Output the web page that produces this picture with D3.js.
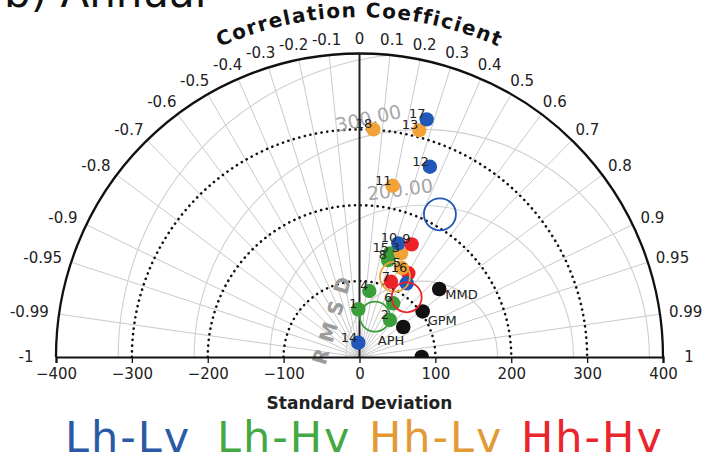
<!DOCTYPE html>
<html>
<head>
<meta charset="utf-8">
<script src="https://cdn.jsdelivr.net/npm/d3@7"></script>
<style>
  body { margin: 0; background: #fff; }
  svg { display: block; font-family: "DejaVu Sans", sans-serif; }
</style>
</head>
<body>
<svg id="chart" width="722" height="462"></svg>
<script>
// groups of experiments (legend order)
var groups = ['Lh-Lv', 'Lh-Hv', 'Hh-Lv', 'Hh-Hv'];

// numbered members: id, group, standard deviation, correlation
var modelIds    = [14, 1, 2, 4, 6, 8, 15, 7, 16, 3, 5, 10, 9, 11, 12, 18, 13, 17, 19];
var modelGroups = ['Lh-Lv', 'Lh-Hv', 'Lh-Hv', 'Lh-Hv', 'Lh-Hv', 'Lh-Hv', 'Lh-Hv', 'Hh-Hv', 'Hh-Hv',
                   'Hh-Lv', 'Hh-Lv', 'Lh-Lv', 'Hh-Hv', 'Hh-Lv', 'Lh-Lv', 'Hh-Lv', 'Hh-Lv', 'Lh-Lv', 'Lh-Lv'];
var modelStd    = [18.9, 62.9, 63.2, 87.9, 83.6, 133.2, 142.4, 107.5, 127.7, 147.2, 129.9, 158.3, 163.6, 229.9, 267.4, 300.5, 309.3, 325.4, 115.3];
var modelCorr   = [-0.084, -0.025, 0.636, 0.147, 0.532, 0.282, 0.282, 0.386, 0.504, 0.372, 0.431, 0.323, 0.420, 0.190, 0.347, 0.0605, 0.255, 0.272, 0.539];

// group means (open circles), same order as groups
var meanStd  = [215.9, 56.9, 115.7, 100.3];
var meanCorr = [0.491, 0.359, 0.404, 0.620];

// observation products
var obsNames = ['MMD', 'GPM', 'APH'];
var obsStd   = [138.1, 102.6, 69.9];
var obsCorr  = [0.761, 0.811, 0.825];
var refStd = 82;

var corrTicks = [-1, -0.99, -0.95, -0.9, -0.8, -0.7, -0.6, -0.5, -0.4, -0.3, -0.2, -0.1, 0,
                 0.1, 0.2, 0.3, 0.4, 0.5, 0.6, 0.7, 0.8, 0.9, 0.95, 0.99, 1];
var stdTicks = [-400, -300, -200, -100, 0, 100, 200, 300, 400];
var stdRings = [100, 200, 300];
var rmsRings = [100, 200, 300, 400];
var rmsLabels = [200, 300];

// styling
var colors = { 'Lh-Lv': '#2157b8', 'Lh-Hv': '#3b9e3b', 'Hh-Lv': '#f2a236', 'Hh-Hv': '#ec2228' };
var legendColors = { 'Lh-Lv': '#2a59a8', 'Lh-Hv': '#44a844', 'Hh-Lv': '#e39a36', 'Hh-Hv': '#e8262c' };
var obsLabelOffset = { MMD: [6, 10, 'start'], GPM: [5, 14, 'start'], APH: [1, 18, 'end'] };
var rmsLabelAngle = { 200: -7.4, 300: -12.6 };

var cx = 359.5, cy = 357, maxStd = 400;
var svg = d3.select('#chart');
var r = d3.scaleLinear().domain([0, maxStd]).range([0, 303.5]);
var x = d3.scaleLinear().domain([-maxStd, maxStd]).range([cx - r(maxStd), cx + r(maxStd)]);

function px(s, c) { return cx + r(s) * c; }
function py(s, c) { return cy - r(s) * Math.sqrt(1 - c * c); }

// panel title (mostly cut off by the top edge)
svg.append('text').attr('x', 4).attr('y', 7)
  .style('font-size', '42px').attr('fill', '#111').text('b) Annual');

var defs = svg.append('defs');
var clipPath = d3.path();
clipPath.moveTo(cx - r(maxStd), cy);
clipPath.arc(cx, cy, r(maxStd), Math.PI, 2 * Math.PI);
clipPath.closePath();
defs.append('clipPath').attr('id', 'half').append('path').attr('d', clipPath.toString());

var plot = svg.append('g');

// grey correlation rays
plot.selectAll('.ray').data(corrTicks.filter(function (c) { return Math.abs(c) < 1 && c !== 0; }))
  .enter().append('line')
  .attr('x1', cx).attr('y1', cy)
  .attr('x2', function (c) { return px(maxStd, c); })
  .attr('y2', function (c) { return py(maxStd, c); })
  .attr('stroke', '#c9c9c9').attr('stroke-width', 1);

// grey RMSD circles around the reference
plot.append('g').attr('clip-path', 'url(#half)')
  .selectAll('circle').data(rmsRings).enter().append('circle')
  .attr('cx', px(refStd, 1)).attr('cy', cy)
  .attr('r', function (d) { return r(d); })
  .attr('fill', 'none').attr('stroke', '#cfcfcf').attr('stroke-width', 1.1);

// dotted standard deviation rings
plot.selectAll('.ring').data(stdRings).enter().append('path')
  .attr('d', function (d) {
    var p = d3.path();
    p.arc(cx, cy, r(d), Math.PI, 2 * Math.PI);
    return p.toString();
  })
  .attr('fill', 'none').attr('stroke', '#111').attr('stroke-width', 2.6)
  .attr('stroke-linecap', 'round').attr('stroke-dasharray', '0.1 5.6');

// RMSD labels
plot.selectAll('.rmsl').data(rmsLabels).enter().append('text')
  .attr('transform', function (d) {
    var a = rmsLabelAngle[d] * Math.PI / 180, rr = r(d) + 17;
    var lx = px(refStd, 1) + rr * Math.sin(a), ly = cy - rr * Math.cos(a);
    return 'translate(' + lx + ',' + ly + ') rotate(' + rmsLabelAngle[d] + ')';
  })
  .attr('text-anchor', 'middle').attr('dy', '0.35em')
  .style('font-size', '19px').attr('fill', '#9a9a9a').attr('fill-opacity', 0.9)
  .text(function (d) { return d.toFixed(2); });

plot.append('text')
  .attr('transform', 'translate(333,317) rotate(-73)')
  .attr('text-anchor', 'middle').attr('dy', '0.35em')
  .style('font-size', '20px').style('font-weight', 'bold').style('letter-spacing', '8px')
  .attr('fill', '#9c9c9c').text('RMSD');

// outer arc and zero-correlation line
var outer = d3.path();
outer.arc(cx, cy, r(maxStd), Math.PI, 2 * Math.PI);
plot.append('path').attr('d', outer.toString())
  .attr('fill', 'none').attr('stroke', '#111').attr('stroke-width', 2.3);
plot.append('line')
  .attr('x1', cx).attr('y1', cy).attr('x2', cx).attr('y2', cy - r(maxStd))
  .attr('stroke', '#222').attr('stroke-width', 2);

// correlation labels
plot.selectAll('.clab').data(corrTicks).enter().append('text')
  .attr('x', function (c) {
    var pad = Math.abs(c) === 1 ? 22 : 10;
    var w = String(c).length * 8;
    return cx + (r(maxStd) + pad) * c + w / 2 * c;
  })
  .attr('y', function (c) {
    var s = Math.sqrt(1 - c * c);
    return cy - (r(maxStd) + 8) * s - 7 * s;
  })
  .attr('text-anchor', 'middle').attr('dy', '0.35em')
  .style('font-size', '15px').attr('fill', '#222')
  .text(function (c) { return String(c); });

// curved axis title
var titleArc = d3.path();
titleArc.arc(cx, cy, 340, Math.PI, 2 * Math.PI);
defs.append('path').attr('id', 'titleArc').attr('d', titleArc.toString());
plot.append('text')
  .style('font-size', '20px').style('font-weight', 'bold').style('letter-spacing', '1.4px')
  .attr('fill', '#111')
  .append('textPath').attr('href', '#titleArc')
  .attr('startOffset', '50%').attr('text-anchor', 'middle')
  .text('Correlation Coefficient');

// x axis
var axis = plot.append('g').attr('transform', 'translate(0,' + cy + ')')
  .call(d3.axisBottom(x).tickValues(stdTicks).tickSizeOuter(0).tickSize(6).tickPadding(5));
axis.select('.domain').attr('stroke', '#111').attr('stroke-width', 2.2);
axis.selectAll('.tick line').attr('stroke', '#111').attr('stroke-width', 1.3);
axis.selectAll('.tick text').style('font-size', '15px').attr('fill', '#222')
  .style('font-family', '"DejaVu Sans", sans-serif');

svg.append('text').attr('x', cx).attr('y', 409)
  .attr('text-anchor', 'middle').style('font-size', '17px').style('font-weight', 'bold')
  .attr('fill', '#222').text('Standard Deviation');

// markers
var marks = plot.append('g').attr('clip-path', 'url(#half)');
marks.append('circle').attr('cx', px(refStd, 1)).attr('cy', cy).attr('r', 7.3).attr('fill', '#111');

marks.selectAll('.obs').data(obsNames).enter().append('circle')
  .attr('cx', function (d, i) { return px(obsStd[i], obsCorr[i]); })
  .attr('cy', function (d, i) { return py(obsStd[i], obsCorr[i]); })
  .attr('r', 7.3).attr('fill', '#111');

marks.selectAll('.model').data(modelIds).enter().append('circle')
  .attr('cx', function (d, i) { return px(modelStd[i], modelCorr[i]); })
  .attr('cy', function (d, i) { return py(modelStd[i], modelCorr[i]); })
  .attr('r', 7.2)
  .attr('fill', function (d, i) { return colors[modelGroups[i]]; });

marks.selectAll('.mean').data(groups).enter().append('circle')
  .attr('cx', function (d, i) { return px(meanStd[i], meanCorr[i]); })
  .attr('cy', function (d, i) { return py(meanStd[i], meanCorr[i]); })
  .attr('r', function (d, i) { return i === 0 ? 16 : 15; })
  .attr('fill', 'none').attr('stroke-width', 1.8)
  .attr('stroke', function (d) { return colors[d]; });

plot.selectAll('.mlab').data(modelIds).enter().append('text')
  .filter(function (d) { return d !== 19; })
  .attr('x', function (d) { var i = modelIds.indexOf(d); return px(modelStd[i], modelCorr[i]) - 1; })
  .attr('y', function (d) { var i = modelIds.indexOf(d); return py(modelStd[i], modelCorr[i]) - 1; })
  .attr('text-anchor', 'end').style('font-size', '13px').attr('fill', '#222')
  .text(function (d) { return d; });

plot.selectAll('.olab').data(obsNames).enter().append('text')
  .attr('x', function (d, i) { return px(obsStd[i], obsCorr[i]) + obsLabelOffset[d][0]; })
  .attr('y', function (d, i) { return py(obsStd[i], obsCorr[i]) + obsLabelOffset[d][1]; })
  .attr('text-anchor', function (d) { return obsLabelOffset[d][2]; })
  .style('font-size', '13px').attr('fill', '#222')
  .text(function (d) { return d; });

// legend
svg.selectAll('.leg').data(groups).enter().append('text')
  .attr('x', function (d, i) { return 65 + i * 152; })
  .attr('y', 452)
  .style('font-size', '43px').style('letter-spacing', '2px')
  .attr('fill', function (d) { return legendColors[d]; })
  .text(function (d) { return d; });
</script>
</body>
</html>
